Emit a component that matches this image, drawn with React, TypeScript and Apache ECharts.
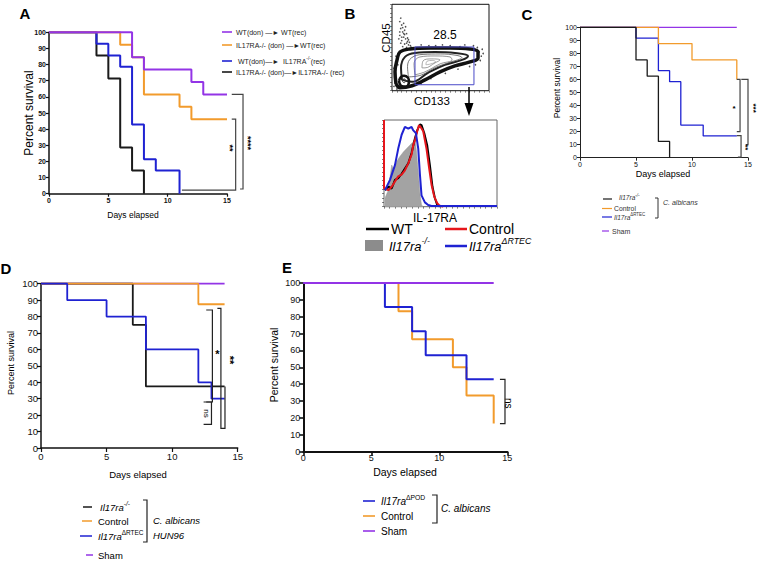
import React, { useEffect, useRef } from 'react';
import * as echarts from 'echarts';

const FONT = 'Liberation Sans, Arial, sans-serif';
const PURPLE = '#9334e6';
const ORANGE = '#f29b2c';
const BLUE = '#1f22d2';
const BLACK = '#1a1a1a';
const RED = '#e5161c';
const GRAY = '#444';

// ---------- Panel A (survival, %) ----------
const aWtWtDays = [0, 7, 8, 12, 13, 15];
const aWtWtSurv = [100, 84.6, 76.9, 69.2, 61.5, 61.5];
const aKoWtDays = [0, 6, 7, 8, 11, 12, 15];
const aKoWtSurv = [100, 92.3, 84.6, 61.5, 53.8, 46.2, 46.2];
const aWtKoDays = [0, 4, 5, 6, 7, 8, 9, 11];
const aWtKoSurv = [100, 92.9, 85.7, 78.6, 42.9, 21.4, 14.3, 0];
const aKoKoDays = [0, 4, 5, 6, 7, 8];
const aKoKoSurv = [100, 85.7, 71.4, 28.6, 14.3, 0];

// ---------- Panel C ----------
const cKoDays = [0, 5, 6, 7, 8];
const cKoSurv = [100, 75, 62.5, 12.5, 0];
const cCtrlDays = [0, 7, 10, 14];
const cCtrlSurv = [100, 87.5, 75, 60];
const cRtecDays = [0, 5, 7, 8, 9, 11, 14];
const cRtecSurv = [100, 91.7, 66.7, 58.3, 25, 16.7, 16.7];
const cShamDays = [0, 14];
const cShamSurv = [100, 100];

// ---------- Panel D ----------
const dKoDays = [0, 7, 8, 14];
const dKoSurv = [100, 75, 37.5, 37.5];
const dCtrlDays = [0, 12, 14];
const dCtrlSurv = [100, 87.5, 87.5];
const dRtecDays = [0, 2, 5, 8, 12, 13, 14];
const dRtecSurv = [100, 90, 80, 60, 40, 30, 30];
const dShamDays = [0, 14];
const dShamSurv = [100, 100];

// ---------- Panel E ----------
const ePodDays = [0, 6, 8, 9, 12, 14];
const ePodSurv = [100, 85.7, 71.4, 57.1, 42.9, 42.9];
const eCtrlDays = [0, 7, 8, 11, 12, 14];
const eCtrlSurv = [100, 83.3, 66.7, 50, 33.3, 16.7];
const eShamDays = [0, 14];
const eShamSurv = [100, 100];

// ---------- Panel B: flow cytometry (arbitrary 0-100 units) ----------
const contourOuter = [[4.1, 8], [3.1, 21.8], [5.2, 35.6], [8.2, 44.8], [18.6, 48.3], [39.2, 49.4], [59.8, 49.4], [80.4, 48.3], [88.7, 44.8], [88.7, 37.9], [80.4, 33.3], [64.9, 28.7], [49.5, 21.8], [34, 12.6], [20.6, 5.7], [8.2, 3.4], [4.1, 8]];
const contour2 = [[10.3, 12.6], [9.3, 26.4], [13.4, 39.1], [23.7, 43.7], [44.3, 44.8], [64.9, 43.7], [78.4, 40.2], [72.2, 35.6], [54.6, 29.9], [37.1, 20.7], [20.6, 10.3], [10.3, 12.6]];
const contour2b = [[17, 16], [16, 28], [20, 38], [32, 42], [50, 42.5], [66, 41], [72, 38.5], [60, 33], [45, 27], [30, 18], [17, 16]];
const contour3 = [[23.7, 18.4], [22.7, 31], [28.9, 39.1], [44.3, 40.2], [59.8, 39.1], [61.9, 35.6], [49.5, 31], [34, 21.8], [23.7, 18.4]];
const contour4 = [[30.9, 26.4], [32, 34.5], [41.2, 36.8], [49.5, 35.6], [44.3, 32.2], [34, 26.4], [30.9, 26.4]];
const contour5 = [[35, 30], [36, 34], [42, 35], [45, 33.5], [40, 31], [35, 30]];
const clusterOuter = [[7.2, 11.5], [9.3, 16.1], [12.4, 17.2], [16.5, 14.9], [17.5, 10.3], [14.4, 4.6], [9.3, 5.7], [7.2, 11.5]];
const clusterInner = [[10.3, 11.5], [12.4, 13.8], [14.4, 11.5], [12.4, 9.2], [10.3, 11.5]];
const gateBox = [[23.7, 6.9], [23.7, 50.6], [84.5, 50.6], [84.5, 6.9], [23.7, 6.9]];
const events = [[8, 80], [10, 76], [12, 78], [9, 72], [13, 70], [11, 68], [15, 66], [8, 64], [12, 62], [14, 60], [10, 58], [16, 57], [9, 55], [13, 54], [17, 53], [11, 51], [15, 50], [19, 52], [7, 60], [14, 74], [12, 66], [10, 62], [18, 56], [16, 61], [20, 50], [9, 84], [11, 73], [13, 65], [8, 68], [15, 55], [17, 59], [30, 53], [45, 52], [60, 52], [70, 51], [75, 53], [52, 53], [38, 52], [90, 45], [92, 40], [88, 50], [93, 48], [86, 30], [80, 28], [91, 35], [94, 43], [84, 52], [3, 15], [2, 5], [5, 2], [6, 30], [4, 40], [2, 26], [30, 8], [40, 14], [55, 20], [68, 25]];

const histKO = [[0.9, 10], [3.8, 19], [6.8, 48], [8.8, 42], [11.2, 52], [14.1, 58], [17.1, 63], [20, 67], [22.9, 71], [25.9, 75], [27.4, 79], [28.8, 63], [30.3, 40], [31.8, 15], [33.2, 2], [34.7, 0]];
const histWT = [[0.9, 19], [3.8, 23], [6.8, 21], [9.7, 31], [12.6, 33], [15.6, 38], [18.5, 44], [21.5, 50], [24.4, 62], [27.4, 79], [29.4, 88], [31.8, 95], [33.2, 94], [35.6, 85], [38.2, 71], [40.6, 48], [42.9, 23], [45, 10], [47.1, 2], [49.4, 0]];
const histCtrl = [[0, 100], [0, 21], [0.9, 21], [3.8, 19], [6.8, 23], [9.7, 29], [12.6, 35], [15.6, 37], [18.5, 42], [21.5, 50], [24.4, 60], [25.9, 71], [27.4, 77], [29.4, 87], [30.9, 94], [32.4, 92], [34.7, 87], [37.6, 67], [40, 44], [42.1, 25], [44.4, 12], [47.1, 4], [49.4, 1], [52.4, 0]];
const histRtec = [[0.9, 19], [5.3, 31], [9.7, 48], [12.6, 67], [15.6, 83], [18.5, 92], [21.5, 90], [24.4, 92], [25.9, 88], [28.2, 85], [30.3, 67], [31.8, 37], [33.2, 13], [36.2, 5], [39.1, 2], [42, 0.8], [100, 0.8]];

const zip = (xs: number[], ys: number[]) => xs.map((x, i) => [x, ys[i]]);

let measureCtx: CanvasRenderingContext2D | null = null;
function tw(text: string, size: number, italic = false, bold = false) {
  if (!measureCtx) measureCtx = document.createElement('canvas').getContext('2d');
  measureCtx!.font = `${italic ? 'italic ' : ''}${bold ? 'bold ' : ''}${size}px "Liberation Sans"`;
  return measureCtx!.measureText(text).width;
}

function T(x: number, y: number, text: string, size: number, o: any = {}) {
  return {
    type: 'text', x, y, rotation: o.rot || 0, z: 100,
    style: {
      text, fontSize: size, fontFamily: FONT,
      fontStyle: o.italic ? 'italic' : 'normal', fontWeight: o.bold ? 'bold' : 'normal',
      fill: o.color || '#000', align: o.align || 'left', verticalAlign: o.va || 'middle',
    },
  };
}
function L(x1: number, y1: number, x2: number, y2: number, color: string, w: number) {
  return { type: 'line', z: 100, shape: { x1, y1, x2, y2 }, style: { stroke: color, lineWidth: w } };
}
function PL(points: number[][], color: string, w: number) {
  return { type: 'polyline', z: 100, shape: { points }, style: { stroke: color, lineWidth: w, fill: 'none' } };
}
function seq(x: number, y: number, segs: any[], color = '#000') {
  const out: any[] = [];
  let cx = x;
  segs.forEach((s) => {
    const size = s.sup ? s.s * 0.68 : s.s;
    const yy = s.sup ? y - s.s * 0.38 : y;
    out.push(T(cx, yy, s.t, size, { italic: s.it, color }));
    cx += tw(s.t, size, s.it);
  });
  return out;
}

function kmAxes(gi: number, lw: number, fs: number, bold: boolean, tickLen: number, color: string, xMargin = 3) {
  const common: any = {
    gridIndex: gi, type: 'value', min: 0,
    axisLine: { show: true, onZero: false, lineStyle: { color, width: lw } },
    axisTick: { show: true, length: tickLen, lineStyle: { color, width: Math.max(1, lw * 0.8) } },
    axisLabel: { fontSize: fs, fontWeight: bold ? 'bold' : 'normal', color: '#111', fontFamily: FONT, margin: 3 },
    splitLine: { show: false },
  };
  return {
    x: { ...common, max: 15, interval: 5, axisLabel: { ...common.axisLabel, margin: xMargin } },
    y: { ...common, max: 100, interval: 10 },
  };
}

function km(gi: number, days: number[], surv: number[], color: string, width: number, z: number) {
  return {
    type: 'line', xAxisIndex: gi, yAxisIndex: gi, data: zip(days, surv), step: 'end',
    symbol: 'none', silent: true, clip: false, z, lineStyle: { color, width },
  };
}
function poly(gi: number, data: number[][], color: string, width: number, smooth: number | boolean = 0.4) {
  return {
    type: 'line', xAxisIndex: gi, yAxisIndex: gi, data, symbol: 'none', silent: true,
    smooth, lineStyle: { color, width },
  };
}

function buildOption() {
  const aA = kmAxes(0, 1.5, 7, true, 3, '#111');
  const aC = kmAxes(3, 1, 7, false, 3, '#222');
  const aD = kmAxes(4, 1.5, 9.5, false, 4, '#111');
  const aE = kmAxes(5, 2, 9, false, 4, '#111', 2);
  const flowAxis = (gi: number) => ({
    gridIndex: gi, type: 'value', min: 0, max: 100, interval: 5,
    axisLine: { show: false }, axisLabel: { show: false }, splitLine: { show: false },
    axisTick: { show: true, length: 2, lineStyle: { color: '#333', width: 0.6 } },
  });
  return {
    animation: false,
    backgroundColor: '#fff',
    grid: [
      { left: 49, top: 32.3, width: 178, height: 161.4 },
      { left: 392, top: 4.3, width: 97, height: 86.4, show: true, borderColor: '#111', borderWidth: 1 },
      { left: 384, top: 120, width: 113, height: 86.7, show: true, borderColor: '#666', borderWidth: 1 },
      { left: 580, top: 27.3, width: 168, height: 130.4 },
      { left: 41, top: 283.7, width: 196.7, height: 164.3 },
      { left: 303.3, top: 283, width: 204, height: 168.7 },
    ],
    xAxis: [aA.x, flowAxis(1), flowAxis(2), aC.x, aD.x, aE.x],
    yAxis: [aA.y, flowAxis(1), flowAxis(2), aC.y, aD.y, aE.y],
    series: [
      // A
      km(0, aKoKoDays, aKoKoSurv, BLACK, 2, 2),
      km(0, aWtKoDays, aWtKoSurv, BLUE, 2, 3),
      km(0, aKoWtDays, aKoWtSurv, ORANGE, 2, 4),
      km(0, aWtWtDays, aWtWtSurv, PURPLE, 2, 5),
      // B scatter
      { type: 'scatter', xAxisIndex: 1, yAxisIndex: 1, data: events, symbolSize: 1.6, silent: true, itemStyle: { color: '#222' } },
      poly(1, contourOuter, '#111', 3.5),
      poly(1, contour2, '#222', 2),
      poly(1, contour2b, '#555', 0.8),
      poly(1, contour3, '#666', 0.7),
      poly(1, contour4, '#777', 0.7),
      poly(1, contour5, '#888', 0.6),
      poly(1, clusterOuter, '#111', 2.5),
      poly(1, clusterInner, '#444', 1),
      poly(1, gateBox, '#4a4ac8', 1, false),
      // B histogram
      { type: 'line', xAxisIndex: 2, yAxisIndex: 2, data: histKO, symbol: 'none', silent: true, lineStyle: { color: '#999', width: 0.5 }, areaStyle: { color: '#a3a3a3', opacity: 1 } },
      { type: 'line', xAxisIndex: 2, yAxisIndex: 2, data: histWT, symbol: 'none', silent: true, lineStyle: { color: '#000', width: 2 } },
      { type: 'line', xAxisIndex: 2, yAxisIndex: 2, data: histCtrl, symbol: 'none', silent: true, lineStyle: { color: RED, width: 2 } },
      { type: 'line', xAxisIndex: 2, yAxisIndex: 2, data: histRtec, symbol: 'none', silent: true, lineStyle: { color: BLUE, width: 2 } },
      // C
      km(3, cShamDays, cShamSurv, PURPLE, 1.3, 2),
      km(3, cRtecDays, cRtecSurv, BLUE, 1.3, 3),
      km(3, cCtrlDays, cCtrlSurv, ORANGE, 1.3, 4),
      km(3, cKoDays, cKoSurv, BLACK, 1.3, 5),
      // D
      km(4, dShamDays, dShamSurv, PURPLE, 1.8, 2),
      km(4, dKoDays, dKoSurv, BLACK, 1.8, 3),
      km(4, dCtrlDays, dCtrlSurv, ORANGE, 1.8, 4),
      km(4, dRtecDays, dRtecSurv, BLUE, 1.8, 5),
      // E
      km(5, eCtrlDays, eCtrlSurv, ORANGE, 2, 3),
      km(5, ePodDays, ePodSurv, BLUE, 2, 4),
      km(5, eShamDays, eShamSurv, PURPLE, 2, 5),
    ],
  };
}

function buildGraphics(chart: echarts.ECharts) {
  const p = (gi: number, x: number, y: number) => chart.convertToPixel({ gridIndex: gi } as any, [x, y]) as number[];
  const br = (gi: number, pts: number[][], color = GRAY, w = 1.2) => PL(pts.map(([x, y]) => p(gi, x, y)), color, w);
  const tAt = (gi: number, x: number, y: number, text: string, size: number, o: any = {}) => {
    const q = p(gi, x, y);
    return T(q[0], q[1], text, size, { align: 'center', ...o });
  };
  const R = Math.PI / 2;
  const g: any[] = [];

  // panel letters
  g.push(T(25, 13, 'A', 15, { bold: true, align: 'center' }));
  g.push(T(350, 13, 'B', 15, { bold: true, align: 'center' }));
  g.push(T(527, 14, 'C', 15, { bold: true, align: 'center' }));
  g.push(T(6, 268, 'D', 15, { bold: true, align: 'center' }));
  g.push(T(287, 267, 'E', 15, { bold: true, align: 'center' }));

  // axis titles
  g.push(T(29, 113, 'Percent survival', 12, { rot: R, align: 'center' }));
  g.push(T(133, 215, 'Days elapsed', 8.5, { align: 'center' }));
  g.push(T(557, 88, 'Percent survival', 8.5, { rot: R, align: 'center' }));
  g.push(T(663, 174, 'Days elapsed', 9, { align: 'center' }));
  g.push(T(11, 363, 'Percent survival', 9, { rot: R, align: 'center' }));
  g.push(T(138, 474, 'Days elapsed', 9.5, { align: 'center' }));
  g.push(T(274, 365, 'Percent survival', 10.5, { rot: R, align: 'center' }));
  g.push(T(405, 471.5, 'Days elapsed', 10.5, { align: 'center' }));

  // A brackets
  g.push(br(0, [[15.4, 61.5], [16.35, 61.5], [16.35, 2.9], [16.1, 2.9]]));
  g.push(br(0, [[15.4, 46.2], [15.73, 46.2], [15.73, 2.2], [11.2, 2.2]]));
  g.push(tAt(0, 15.28, 28.3, '**', 9, { rot: -R, bold: true }));
  g.push(tAt(0, 16.8, 31.4, '****', 9, { rot: -R, bold: true }));

  // A legend
  const aRows = [
    { y: 32, c: PURPLE, segs: [{ t: 'WT(don) —► WT(rec)', s: 7 }] },
    { y: 45, c: ORANGE, segs: [{ t: 'IL17RA-/- (don) —►WT(rec)', s: 7 }] },
    { y: 61, c: BLUE, segs: [{ t: ' WT(don)—►  IL17RA', s: 7 }, { t: '-/-', s: 7, sup: true }, { t: '(rec)', s: 7 }] },
    { y: 72, c: BLACK, segs: [{ t: 'IL17RA-/- (don)—►IL17RA-/- (rec)', s: 7 }] },
  ];
  aRows.forEach((r) => {
    g.push(L(222, r.y, 232, r.y, r.c, 1.6));
    g.push(...seq(236, r.y, r.segs, '#222'));
  });

  // B flow labels
  g.push(T(386, 38, 'CD45', 11.5, { rot: R, align: 'center' }));
  g.push(T(432, 101, 'CD133', 11.5, { align: 'center' }));
  g.push(T(445, 35, '28.5', 12, { align: 'center' }));
  g.push(T(435, 218, 'IL-17RA', 12, { align: 'center' }));
  g.push(L(469, 87, 469, 106, '#000', 1.5));
  g.push({ type: 'polygon', z: 100, shape: { points: [[464.5, 103], [473.5, 103], [469, 116]] }, style: { fill: '#000' } });

  // B legend
  g.push(L(366, 229, 389, 229, '#000', 2.5));
  g.push(T(391, 229, 'WT', 14));
  g.push({ type: 'rect', z: 100, shape: { x: 365, y: 240, width: 18, height: 11 }, style: { fill: '#8c8c8c' } });
  g.push(...seq(389, 246, [{ t: 'Il17ra', s: 13, it: true }, { t: '-/-', s: 13, it: true, sup: true }]));
  g.push(L(445, 229, 467, 229, RED, 2.5));
  g.push(T(469, 229, 'Control', 14));
  g.push(L(445, 246, 467, 246, BLUE, 2.5));
  g.push(...seq(469, 246, [{ t: 'Il17ra', s: 13, it: true }, { t: 'ΔRTEC', s: 13, it: true, sup: true }]));

  // C brackets
  g.push(br(3, [[14.0, 60], [14.29, 60], [14.29, 20], [14.0, 20]]));
  g.push(br(3, [[14.4, 60], [15.0, 60], [15.0, 10], [14.8, 10]]));
  g.push(br(3, [[14.0, 17], [14.38, 17], [14.38, 0.5], [14.1, 0.5]]));
  g.push(tAt(3, 13.75, 38, '*', 8, { bold: true }));
  g.push(tAt(3, 15.45, 38, '***', 8, { rot: -R, bold: true }));
  g.push(tAt(3, 14.78, 8, '**', 8, { rot: -R, bold: true }));

  // C legend
  g.push(L(603, 199, 612, 199, BLACK, 1.2));
  g.push(...seq(619, 197.5, [{ t: 'Il17ra', s: 6.5, it: true }, { t: '-/-', s: 6.5, it: true, sup: true }], '#333'));
  g.push(L(602, 208.5, 612, 208.5, ORANGE, 1.2));
  g.push(T(614, 208.5, 'Control', 6.8, { color: '#333' }));
  g.push(L(602, 217, 612, 217, BLUE, 1.2));
  g.push(...seq(614, 217, [{ t: 'Il17ra', s: 6.5, it: true }, { t: 'ΔRTEC', s: 6.5, sup: true }], '#333'));
  g.push(L(602, 231, 609, 231, PURPLE, 1.2));
  g.push(T(612, 231, 'Sham', 7, { color: '#333' }));
  g.push(PL([[655, 198], [658, 198], [658, 218], [655, 218]], '#333', 1));
  g.push(T(663, 202, 'C. albicans', 7, { italic: true, color: '#333' }));

  // D brackets
  g.push(br(4, [[12.6, 84], [13.07, 84], [13.07, 28], [12.6, 28]], '#222', 1.2));
  g.push(br(4, [[12.4, 28], [13.0, 28], [13.0, 14.4], [12.4, 14.4]], '#222', 1.2));
  g.push(br(4, [[13.45, 85], [13.72, 85], [13.72, 12], [14.03, 12], [14.03, 37.5]], '#222', 1.2));
  g.push(tAt(4, 13.45, 57, '*', 11, { bold: true }));
  g.push(tAt(4, 14.45, 53.5, '**', 11, { rot: -R, bold: true }));
  g.push(tAt(4, 12.65, 21, 'ns', 8, { rot: -R }));

  // D legend
  g.push(L(83, 507, 92, 507, BLACK, 1.5));
  g.push(...seq(100, 507, [{ t: 'Il17ra', s: 9.5, it: true }, { t: '-/-', s: 9.5, it: true, sup: true }]));
  g.push(L(82, 521, 92, 521, ORANGE, 1.5));
  g.push(T(98, 521, 'Control', 9.5));
  g.push(L(80, 536, 92, 536, BLUE, 1.5));
  g.push(...seq(98, 536, [{ t: 'Il17ra', s: 9.5, it: true }, { t: 'ΔRTEC', s: 9.5, sup: true }]));
  g.push(L(86, 555, 93, 555, PURPLE, 1.5));
  g.push(T(98, 555, 'Sham', 9.5));
  g.push(PL([[143, 500], [147, 500], [147, 542], [143, 542]], '#222', 1.2));
  g.push(T(153, 520, 'C. albicans', 9.5, { italic: true }));
  g.push(T(153, 535, 'HUN96', 9.5, { italic: true }));

  // E bracket
  g.push(br(5, [[14.46, 42.9], [14.83, 42.9], [14.83, 16.7], [14.46, 16.7]], '#222', 1.2));
  g.push(tAt(5, 15.1, 28.7, 'ns', 10, { rot: -R }));

  // E legend
  g.push(L(363, 501, 375, 501, BLUE, 1.6));
  g.push(...seq(381, 501, [{ t: 'Il17ra', s: 10, it: true }, { t: 'ΔPOD', s: 10, sup: true }]));
  g.push(L(363, 516, 375, 516, ORANGE, 1.6));
  g.push(T(381, 516, 'Control', 10));
  g.push(L(363, 531, 375, 531, PURPLE, 1.6));
  g.push(T(381, 531, 'Sham', 10));
  g.push(PL([[432, 495], [437, 495], [437, 523], [432, 523]], '#222', 1.2));
  g.push(T(441, 508, 'C. albicans', 10, { italic: true }));

  return g;
}

export default function App() {
  const ref = useRef<HTMLDivElement>(null);
  useEffect(() => {
    const chart = echarts.init(ref.current!, null, { renderer: 'svg' });
    chart.setOption(buildOption() as any);
    chart.setOption({ graphic: { elements: buildGraphics(chart) } } as any);
    return () => chart.dispose();
  }, []);
  return (
    <div
      ref={ref}
      style={{ position: 'fixed', left: 0, top: 0, width: 758, height: 561, background: '#fff' }}
    />
  );
}
